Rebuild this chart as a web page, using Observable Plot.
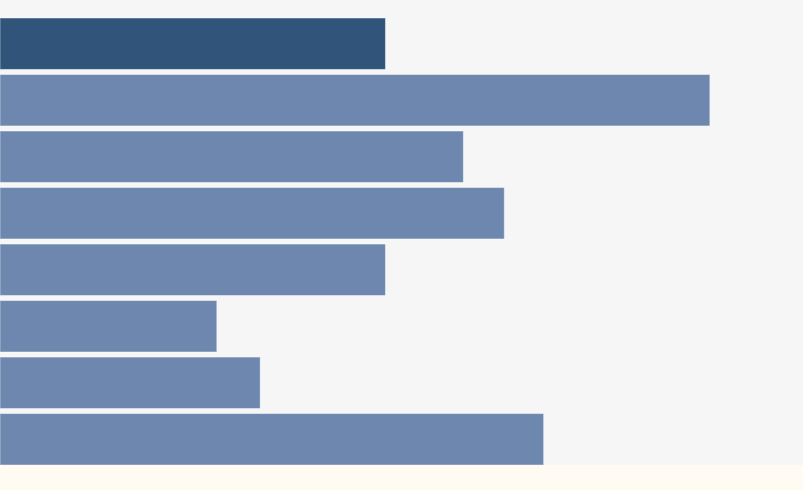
<!DOCTYPE html>
<html>
<head>
<meta charset="utf-8">
<script src="https://cdn.jsdelivr.net/npm/d3@7"></script>
<script src="https://cdn.jsdelivr.net/npm/@observablehq/plot@0.6"></script>
<style>
  html, body { margin: 0; padding: 0; background: #fffbf3; }
  #chart svg { display: block; }
</style>
</head>
<body>
<div id="chart"></div>
<script>
const categories = ["A", "B", "C", "D", "E", "F", "G", "H"];
const values = [48, 88.4, 57.7, 62.8, 48, 27, 32.4, 67.7];
const highlighted = ["A"];

const data = categories.map((c, i) => ({category: c, value: values[i], hi: highlighted.includes(c)}));

const chart = Plot.plot({
  width: 803,
  height: 465,
  marginTop: 18,
  marginBottom: 0,
  marginLeft: 0,
  marginRight: 0,
  style: {background: "#f6f6f6"},
  x: {domain: [0, 100], axis: null},
  y: {domain: categories, axis: null, paddingInner: 0.09, paddingOuter: 0, round: false},
  marks: [
    Plot.barX(data, {
      x: "value",
      y: "category",
      fill: d => d.hi ? "#31547a" : "#6d87ae",
      stroke: "#ffffff",
      strokeOpacity: 0.45,
      strokeWidth: 1
    })
  ]
});
document.getElementById("chart").append(chart);
</script>
</body>
</html>
